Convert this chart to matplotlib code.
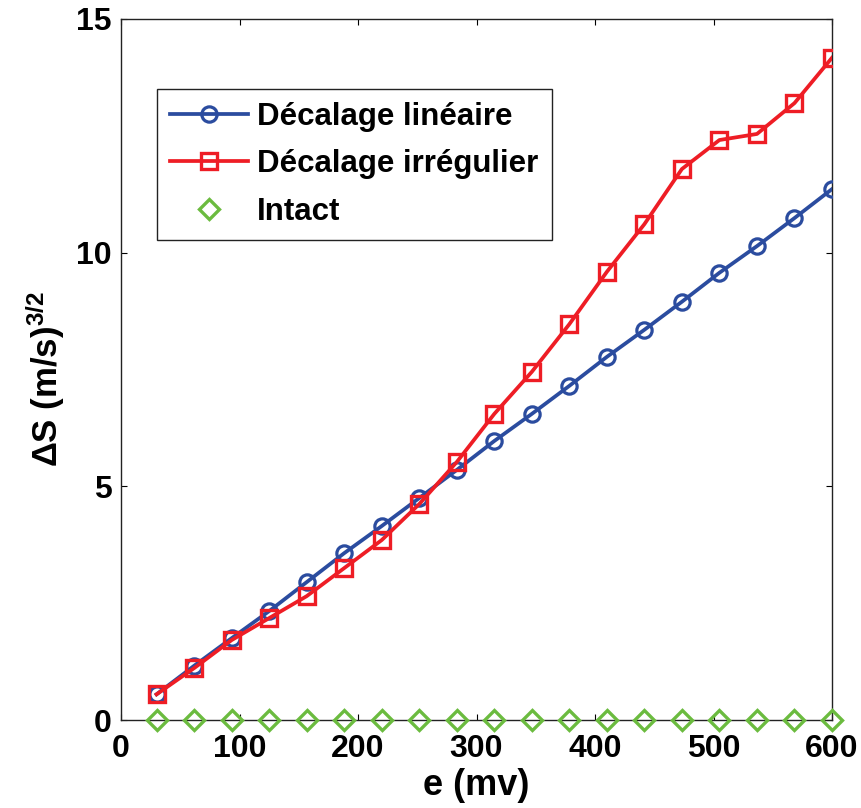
import numpy as np
import matplotlib
matplotlib.use("Agg")
import matplotlib.pyplot as plt

x_vals = np.linspace(30, 600, 19)
lineaire = [0.55, 1.16, 1.75, 2.33, 2.95, 3.57, 4.15, 4.75, 5.35, 5.97,
            6.55, 7.15, 7.77, 8.35, 8.95, 9.57, 10.14, 10.74, 11.36]
irregulier = [0.55, 1.11, 1.71, 2.18, 2.65, 3.25, 3.85, 4.62, 5.52, 6.55,
              7.45, 8.47, 9.59, 10.61, 11.79, 12.41, 12.54, 13.2, 14.17]
intact = [0.0] * 19
labels = ["Décalage linéaire", "Décalage irrégulier", "Intact"]
x_ticks = [0, 100, 200, 300, 400, 500, 600]
y_ticks = [0, 5, 10, 15]

plt.rcParams['font.family'] = ['Liberation Sans', 'DejaVu Sans']
plt.rcParams['font.weight'] = 'bold'
plt.rcParams['mathtext.fontset'] = 'custom'
plt.rcParams['mathtext.rm'] = 'Liberation Sans:bold'
plt.rcParams['mathtext.bf'] = 'Liberation Sans:bold'
plt.rcParams['mathtext.it'] = 'Liberation Sans:bold'
plt.rcParams['mathtext.default'] = 'bf'

fig = plt.figure(figsize=(8.62, 8.08), dpi=100)
ax = fig.add_axes([0.1404, 0.1089, 0.8248, 0.8676])

blue = '#2b4c9f'
red = '#ee1d25'
green = '#6bbb3f'

ax.plot(x_vals, lineaire, '-', color=blue, lw=2.7, marker='o', ms=11,
        mfc='none', mec=blue, mew=2.3, label=labels[0], zorder=3)
ax.plot(x_vals, irregulier, '-', color=red, lw=2.7, marker='s', ms=12,
        mfc='none', mec=red, mew=2.4, label=labels[1], zorder=4)
ax.plot(x_vals, intact, linestyle='none', marker='D', ms=10.5,
        mfc='none', mec=green, mew=2.4, label=labels[2], zorder=5, clip_on=False)

ax.set_xlim(0, 600)
ax.set_ylim(0, 15)
ax.set_xticks(x_ticks)
ax.set_yticks(y_ticks)
ax.tick_params(direction='in', length=4, width=0.8, top=True, right=True,
               labelsize=23)
ax.tick_params(axis='x', pad=10)
ax.tick_params(axis='y', pad=7)
for lab in ax.get_xticklabels() + ax.get_yticklabels():
    lab.set_fontweight('bold')
for sp in ax.spines.values():
    sp.set_linewidth(1.0)
    sp.set_color('#222222')

ax.set_xlabel('e (mv)', fontsize=26, fontweight='bold', labelpad=3)
ax.set_ylabel(r'ΔS (m/s)$^{3/2}$', fontsize=25, fontweight='bold', labelpad=6)
ax.yaxis.label.set_y(0.487)

leg = ax.legend(loc='upper left', bbox_to_anchor=(0.05, 0.9), borderaxespad=0,
                fontsize=22.5, frameon=True, fancybox=False, framealpha=1,
                edgecolor='#222222', handlelength=2.5, handletextpad=0.3,
                labelspacing=0.55, borderpad=0.42)
leg.get_frame().set_linewidth(1.0)
for t in leg.get_texts():
    t.set_fontweight('bold')

fig.savefig('out.png', dpi=100, facecolor='white')
